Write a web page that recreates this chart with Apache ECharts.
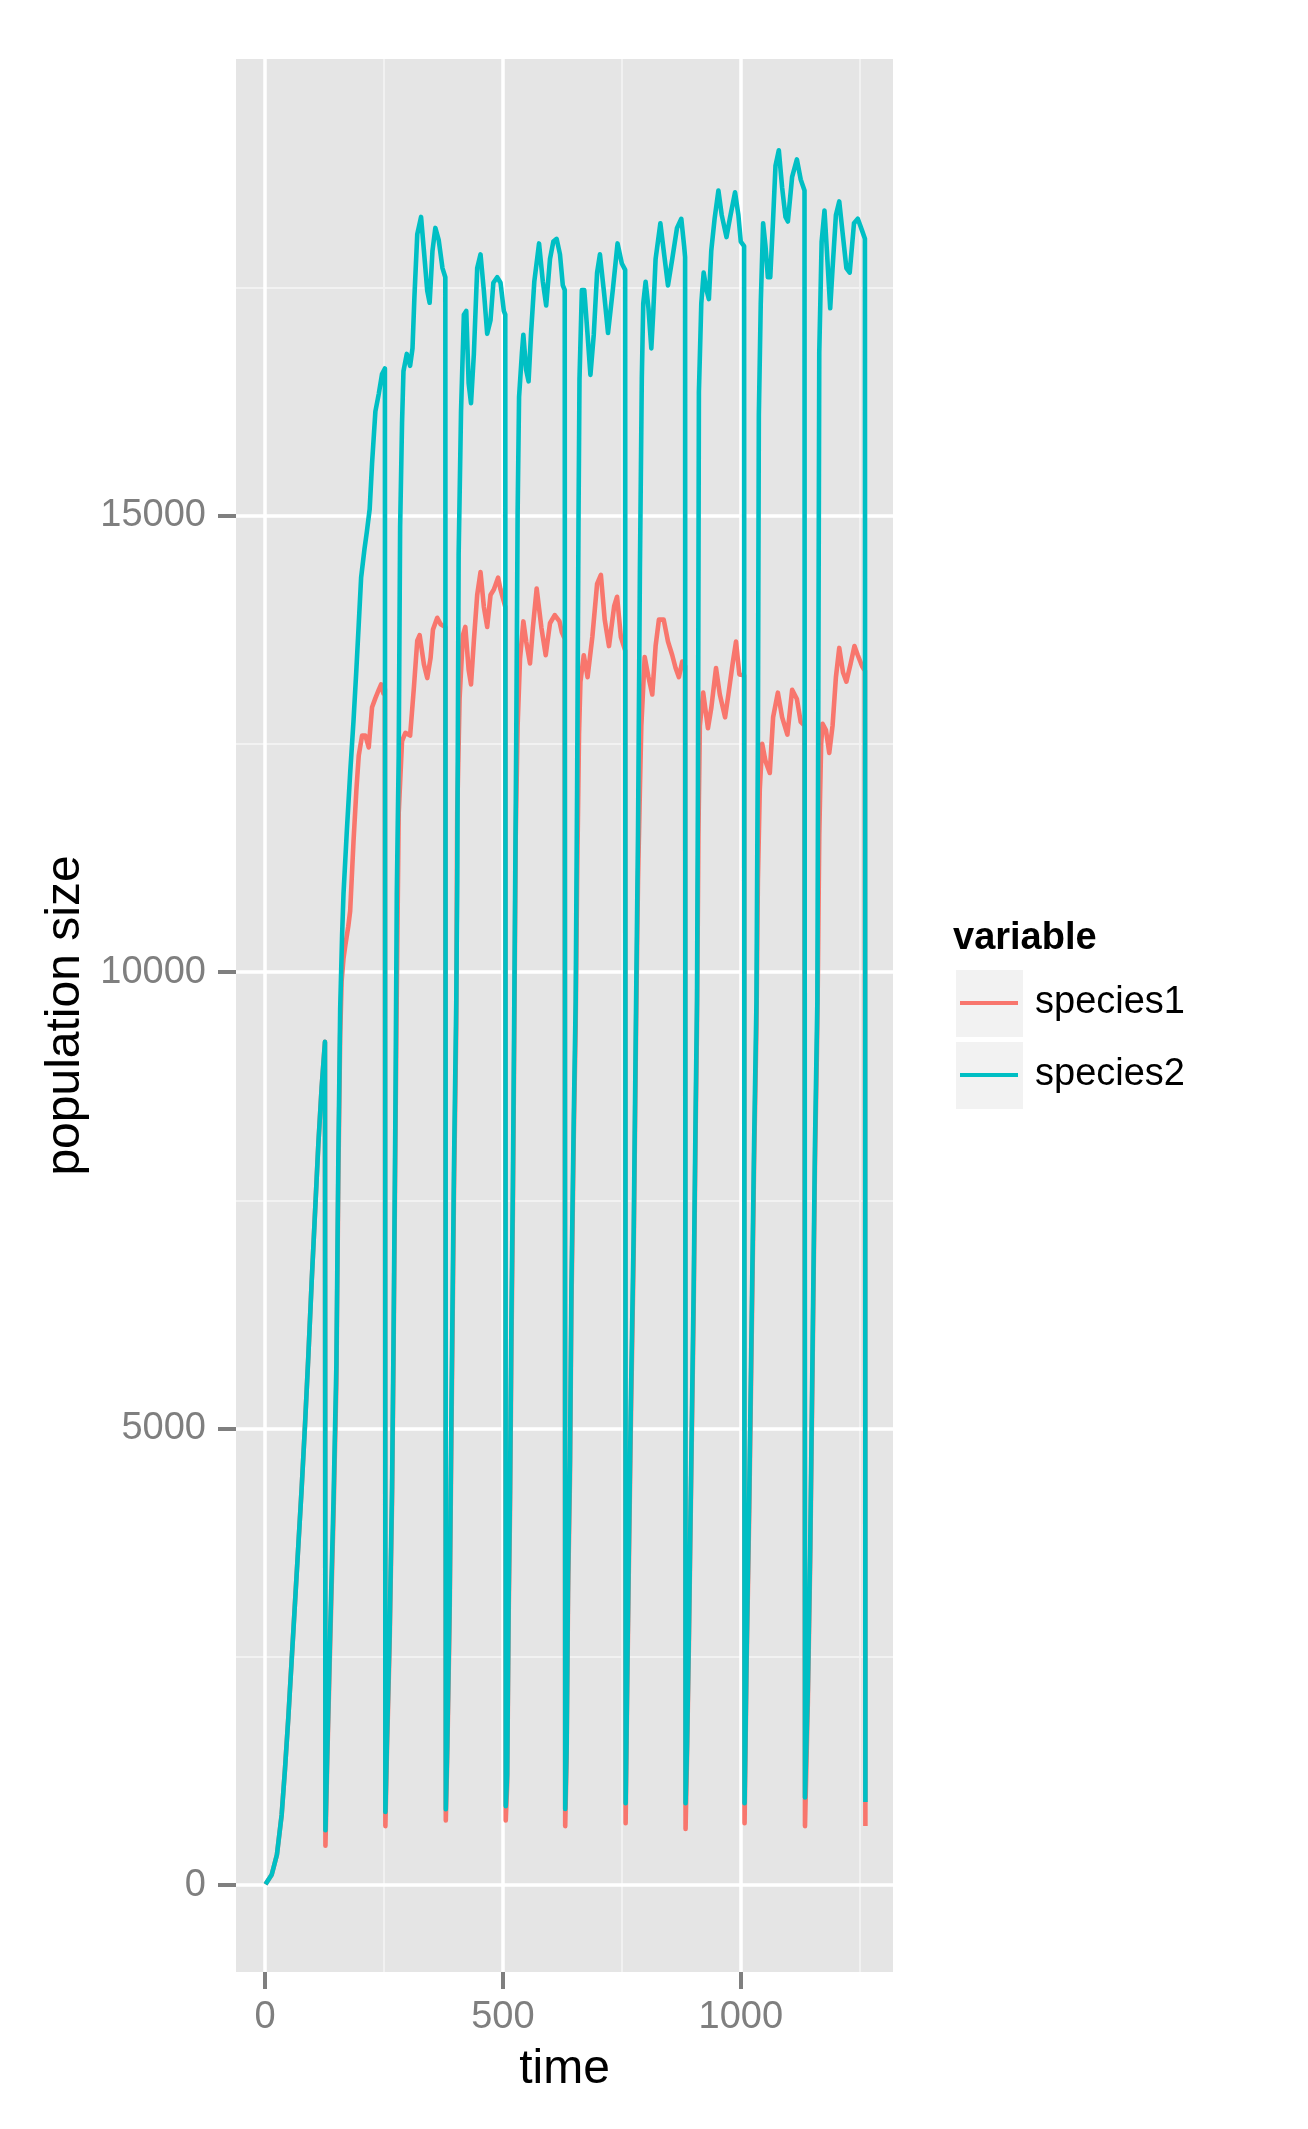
<!DOCTYPE html>
<html>
<head>
<meta charset="utf-8">
<title>population size over time</title>
<script src="https://cdn.jsdelivr.net/npm/echarts@6/dist/echarts.min.js"></script>
<style>
  html, body { margin: 0; padding: 0; background: #ffffff; }
  #chart { width: 1308px; height: 2129px; }
</style>
</head>
<body>
<div id="chart"></div>
<script>
// [time, population]; each harvest is a one-step drop
var species1 = [
  [1,10],[14,113],[25,332],[35,771],[42,1273],[49,1837],[56,2464],[63,3091],[70,3718],[77,4345],
  [84,5035],[91,5787],[98,6602],[105,7355],[112,8107],[119,8734],[126,9235],[127,430],
  [131,1400],[137,2650],[144,4050],[150,5500],[154,7700],[158,9300],[161,9900],[165,10150],[169,10300],
  [175,10500],[179,10670],[186,11430],[192,11990],[197,12370],[204,12590],[211,12590],[218,12460],
  [225,12900],[232,13000],[239,13090],[244,13150],[249,13050],[252,13100],[253,646],
  [256,1400],[262,2650],[267,4200],[270,5700],[274,8100],[277,9800],[281,11740],[288,12530],[295,12620],
  [305,12590],[313,13120],[320,13630],[325,13690],[334,13370],[341,13220],[348,13440],[353,13750],
  [362,13880],[369,13810],[379,13780],[380,708],
  [383,1400],[388,2900],[392,5000],[397,7500],[402,9400],[404,11740],[409,13000],[416,13690],[421,13780],
  [428,13310],[433,13150],[439,13630],[446,14130],[453,14380],[460,14000],[467,13780],[474,14130],
  [481,14190],[490,14320],[495,14190],[505,14000],[506,708],
  [509,1100],[512,2900],[515,4100],[518,5900],[521,7400],[524,9300],[527,11500],[531,12700],[536,13430],
  [543,13840],[549,13620],[557,13380],[563,13770],[571,14200],[581,13770],[590,13470],[599,13820],
  [609,13910],[619,13840],[624,13720],[630,13650],[631,646],
  [634,1400],[637,3200],[641,4450],[644,6300],[649,8200],[653,9400],[656,11000],[660,12600],[663,13180],
  [670,13470],[678,13230],[688,13670],[698,14250],[706,14350],[714,13860],[723,13570],[734,14010],
  [740,14110],[748,13670],[757,13520],[758,677],
  [761,2000],[764,3200],[769,5050],[775,6950],[780,9400],[784,11000],[788,12000],[791,12700],[798,13450],
  [806,13230],[814,13040],[821,13570],[828,13860],[838,13860],[847,13620],[856,13470],[863,13330],
  [870,13230],[877,13400],[883,13350],[884,614],
  [887,1400],[891,2650],[896,4500],[901,6300],[905,8200],[908,9400],[911,11500],[914,12700],[921,13060],
  [931,12670],[938,12890],[948,13330],[956,13040],[967,12790],[974,13040],[983,13380],[990,13620],
  [997,13260],[1007,13250],[1008,677],
  [1012,2300],[1018,4150],[1023,6000],[1028,7900],[1033,9400],[1036,11000],[1040,12000],[1045,12500],
  [1052,12310],[1061,12180],[1068,12790],[1078,13060],[1087,12790],[1098,12600],[1108,13090],
  [1118,12990],[1126,12740],[1134,12700],[1135,646],
  [1141,2000],[1146,3550],[1151,5700],[1156,7900],[1161,9400],[1165,11500],[1169,12500],[1172,12720],
  [1179,12650],[1186,12400],[1193,12700],[1200,13230],[1207,13550],[1215,13280],[1222,13180],
  [1231,13380],[1239,13570],[1246,13470],[1255,13350],[1261,13300],[1262,646]
];

var species2 = [
  [1,10],[14,113],[25,332],[35,771],[42,1273],[49,1837],[56,2464],[63,3091],[70,3718],[77,4345],
  [84,5035],[91,5787],[98,6602],[105,7355],[112,8107],[119,8734],[126,9235],[127,600],
  [131,1500],[137,2780],[144,4220],[150,5700],[154,7900],[158,9600],[162,10400],[165,10860],[172,11550],
  [179,12180],[186,12750],[192,13310],[197,13810],[202,14320],[209,14630],[214,14820],[220,15070],
  [225,15570],[232,16140],[239,16330],[246,16550],[252,16610],[253,800],
  [256,1520],[262,2780],[267,4350],[270,5910],[274,8420],[277,10860],[281,12370],[284,14880],[288,16010],
  [291,16580],[298,16770],[305,16640],[310,16830],[314,17390],[320,18080],[328,18270],[334,17900],
  [341,17460],[346,17330],[352,17900],[358,18150],[365,18020],[373,17710],[379,17610],[380,830],
  [383,1520],[388,3090],[392,5290],[397,7790],[402,9680],[404,11000],[407,14570],[412,16140],[418,17200],
  [423,17240],[428,16450],[433,16230],[439,16770],[446,17710],[453,17860],[460,17460],[467,16990],
  [474,17140],[480,17550],[488,17610],[495,17550],[502,17240],[505,17200],[506,865],
  [509,1210],[512,3090],[515,4350],[518,6230],[521,7670],[524,9680],[528,12500],[531,15030],[534,16300],
  [540,16780],[543,16980],[549,16590],[554,16470],[559,16980],[566,17560],[576,17980],[584,17560],
  [591,17300],[599,17810],[606,18000],[613,18030],[620,17860],[626,17520],[630,17470],[631,834],
  [634,1520],[637,3400],[641,4660],[644,6540],[649,8420],[653,9680],[656,12000],[659,15000],[661,16490],
  [666,17470],[671,17470],[678,16980],[684,16540],[691,16980],[698,17660],[704,17860],[713,17420],
  [721,17000],[731,17470],[741,17980],[750,17760],[757,17690],[758,897],
  [761,2150],[764,3400],[769,5290],[775,7170],[780,9680],[784,11500],[788,14400],[792,16500],[795,17320],
  [800,17560],[806,17270],[812,16830],[816,17220],[821,17810],[831,18200],[838,17900],[847,17520],
  [856,17810],[866,18150],[875,18250],[881,17950],[883,17830],[884,897],
  [887,1520],[891,2780],[896,4660],[901,6540],[905,8420],[908,9680],[910,12000],[912,16350],[917,17320],
  [922,17660],[928,17470],[933,17370],[938,17900],[945,18250],[953,18560],[960,18290],[970,18050],
  [977,18250],[988,18540],[995,18290],[1000,18000],[1007,17950],[1008,897],
  [1012,2460],[1018,4350],[1023,6230],[1028,8110],[1033,9680],[1036,12500],[1038,16100],[1042,17320],
  [1047,18200],[1052,17950],[1057,17610],[1062,17610],[1068,18250],[1073,18830],[1080,19000],
  [1087,18590],[1094,18270],[1099,18220],[1108,18710],[1118,18900],[1126,18680],[1134,18560],[1135,959],
  [1141,2150],[1146,3720],[1151,5910],[1156,8110],[1161,9680],[1163,13000],[1165,16780],[1170,18000],
  [1176,18340],[1181,17900],[1188,17270],[1193,17710],[1200,18290],[1207,18440],[1215,18050],
  [1222,17710],[1229,17660],[1238,18200],[1246,18250],[1255,18120],[1261,18030],[1262,909]
];

var xMajor = [0, 500, 1000];
var xMinor = [250, 750, 1250];
var yMajor = [0, 5000, 10000, 15000];
var yMinor = [2500, 7500, 12500, 17500];

var FONT = '"Liberation Sans", Arial, sans-serif';
var TICK_GREY = '#7F7F7F';

function gridLines(axis, values, color, width) {
  return values.map(function (v) {
    var d = { lineStyle: { color: color, width: width, type: 'solid' } };
    d[axis] = v;
    return d;
  });
}

function plain(v) { return String(v); }

var chart = echarts.init(document.getElementById('chart'));

var option = {
  animation: false,
  textStyle: { fontFamily: FONT },
  title: {
    text: 'variable',
    left: 953,
    top: 920,
    padding: 0,
    textStyle: { fontFamily: FONT, fontSize: 38, fontWeight: 'bold', color: '#000000' }
  },
  legend: {
    orient: 'vertical',
    left: 960,
    top: 967,
    padding: 0,
    itemGap: 0,
    itemWidth: 58,
    itemHeight: 4,
    icon: 'rect',
    selectedMode: false,
    data: ['species1', 'species2'],
    textStyle: { fontFamily: FONT, fontSize: 38, lineHeight: 72, color: '#000000', padding: [0, 0, 0, 12] }
  },
  // grey key boxes behind the legend lines
  graphic: [
    { type: 'rect', left: 956, top: 970, shape: { width: 67, height: 67 }, style: { fill: '#F2F2F2' }, silent: true, z: 0 },
    { type: 'rect', left: 956, top: 1042, shape: { width: 67, height: 67 }, style: { fill: '#F2F2F2' }, silent: true, z: 0 }
  ],
  grid: {
    left: 236,
    top: 59,
    right: 415,
    bottom: 157,
    containLabel: false,
    outerBoundsMode: 'none',
    show: true,
    backgroundColor: '#E5E5E5',
    borderWidth: 0
  },
  xAxis: {
    type: 'value',
    min: -61,
    max: 1320,
    name: 'time',
    nameLocation: 'middle',
    nameGap: 74,
    nameTextStyle: { fontFamily: FONT, fontSize: 48, color: '#000000' },
    axisLine: { show: true, onZero: false, lineStyle: { color: 'rgba(0,0,0,0)', width: 0 } },
    axisTick: { show: true, inside: false, length: 17, lineStyle: { color: TICK_GREY, width: 4 }, customValues: xMajor },
    axisLabel: { customValues: xMajor, formatter: plain, color: TICK_GREY, fontSize: 38, margin: 27, fontFamily: FONT },
    splitLine: { show: false }
  },
  yAxis: {
    type: 'value',
    min: -952,
    max: 20000,
    name: 'population size',
    nameLocation: 'middle',
    nameGap: 126,
    nameRotate: 90,
    nameTextStyle: { fontFamily: FONT, fontSize: 48, color: '#000000' },
    axisLine: { show: true, onZero: false, lineStyle: { color: 'rgba(0,0,0,0)', width: 0 } },
    axisTick: { show: true, inside: false, length: 18, lineStyle: { color: TICK_GREY, width: 4 }, customValues: yMajor },
    axisLabel: { customValues: yMajor, formatter: plain, color: TICK_GREY, fontSize: 38, margin: 30, fontFamily: FONT },
    splitLine: { show: false }
  },
  series: [
    {
      name: 'grid',
      type: 'line',
      data: [],
      silent: true,
      markLine: {
        silent: true,
        symbol: 'none',
        z: 1,
        animation: false,
        label: { show: false },
        emphasis: { disabled: true },
        data: [].concat(
          gridLines('xAxis', xMinor, '#F2F2F2', 1.8),
          gridLines('yAxis', yMinor, '#F2F2F2', 1.8),
          gridLines('xAxis', xMajor, '#FFFFFF', 3.5),
          gridLines('yAxis', yMajor, '#FFFFFF', 3.5)
        )
      }
    },
    {
      name: 'species1',
      type: 'line',
      data: species1,
      z: 2,
      silent: true,
      showSymbol: false,
      symbol: 'none',
      itemStyle: { color: '#F8766D' },
      lineStyle: { color: '#F8766D', width: 4.6, join: 'round' }
    },
    {
      name: 'species2',
      type: 'line',
      data: species2,
      z: 3,
      silent: true,
      showSymbol: false,
      symbol: 'none',
      itemStyle: { color: '#00BFC4' },
      lineStyle: { color: '#00BFC4', width: 4.6, join: 'round' }
    }
  ]
};

chart.setOption(option);
</script>
</body>
</html>
